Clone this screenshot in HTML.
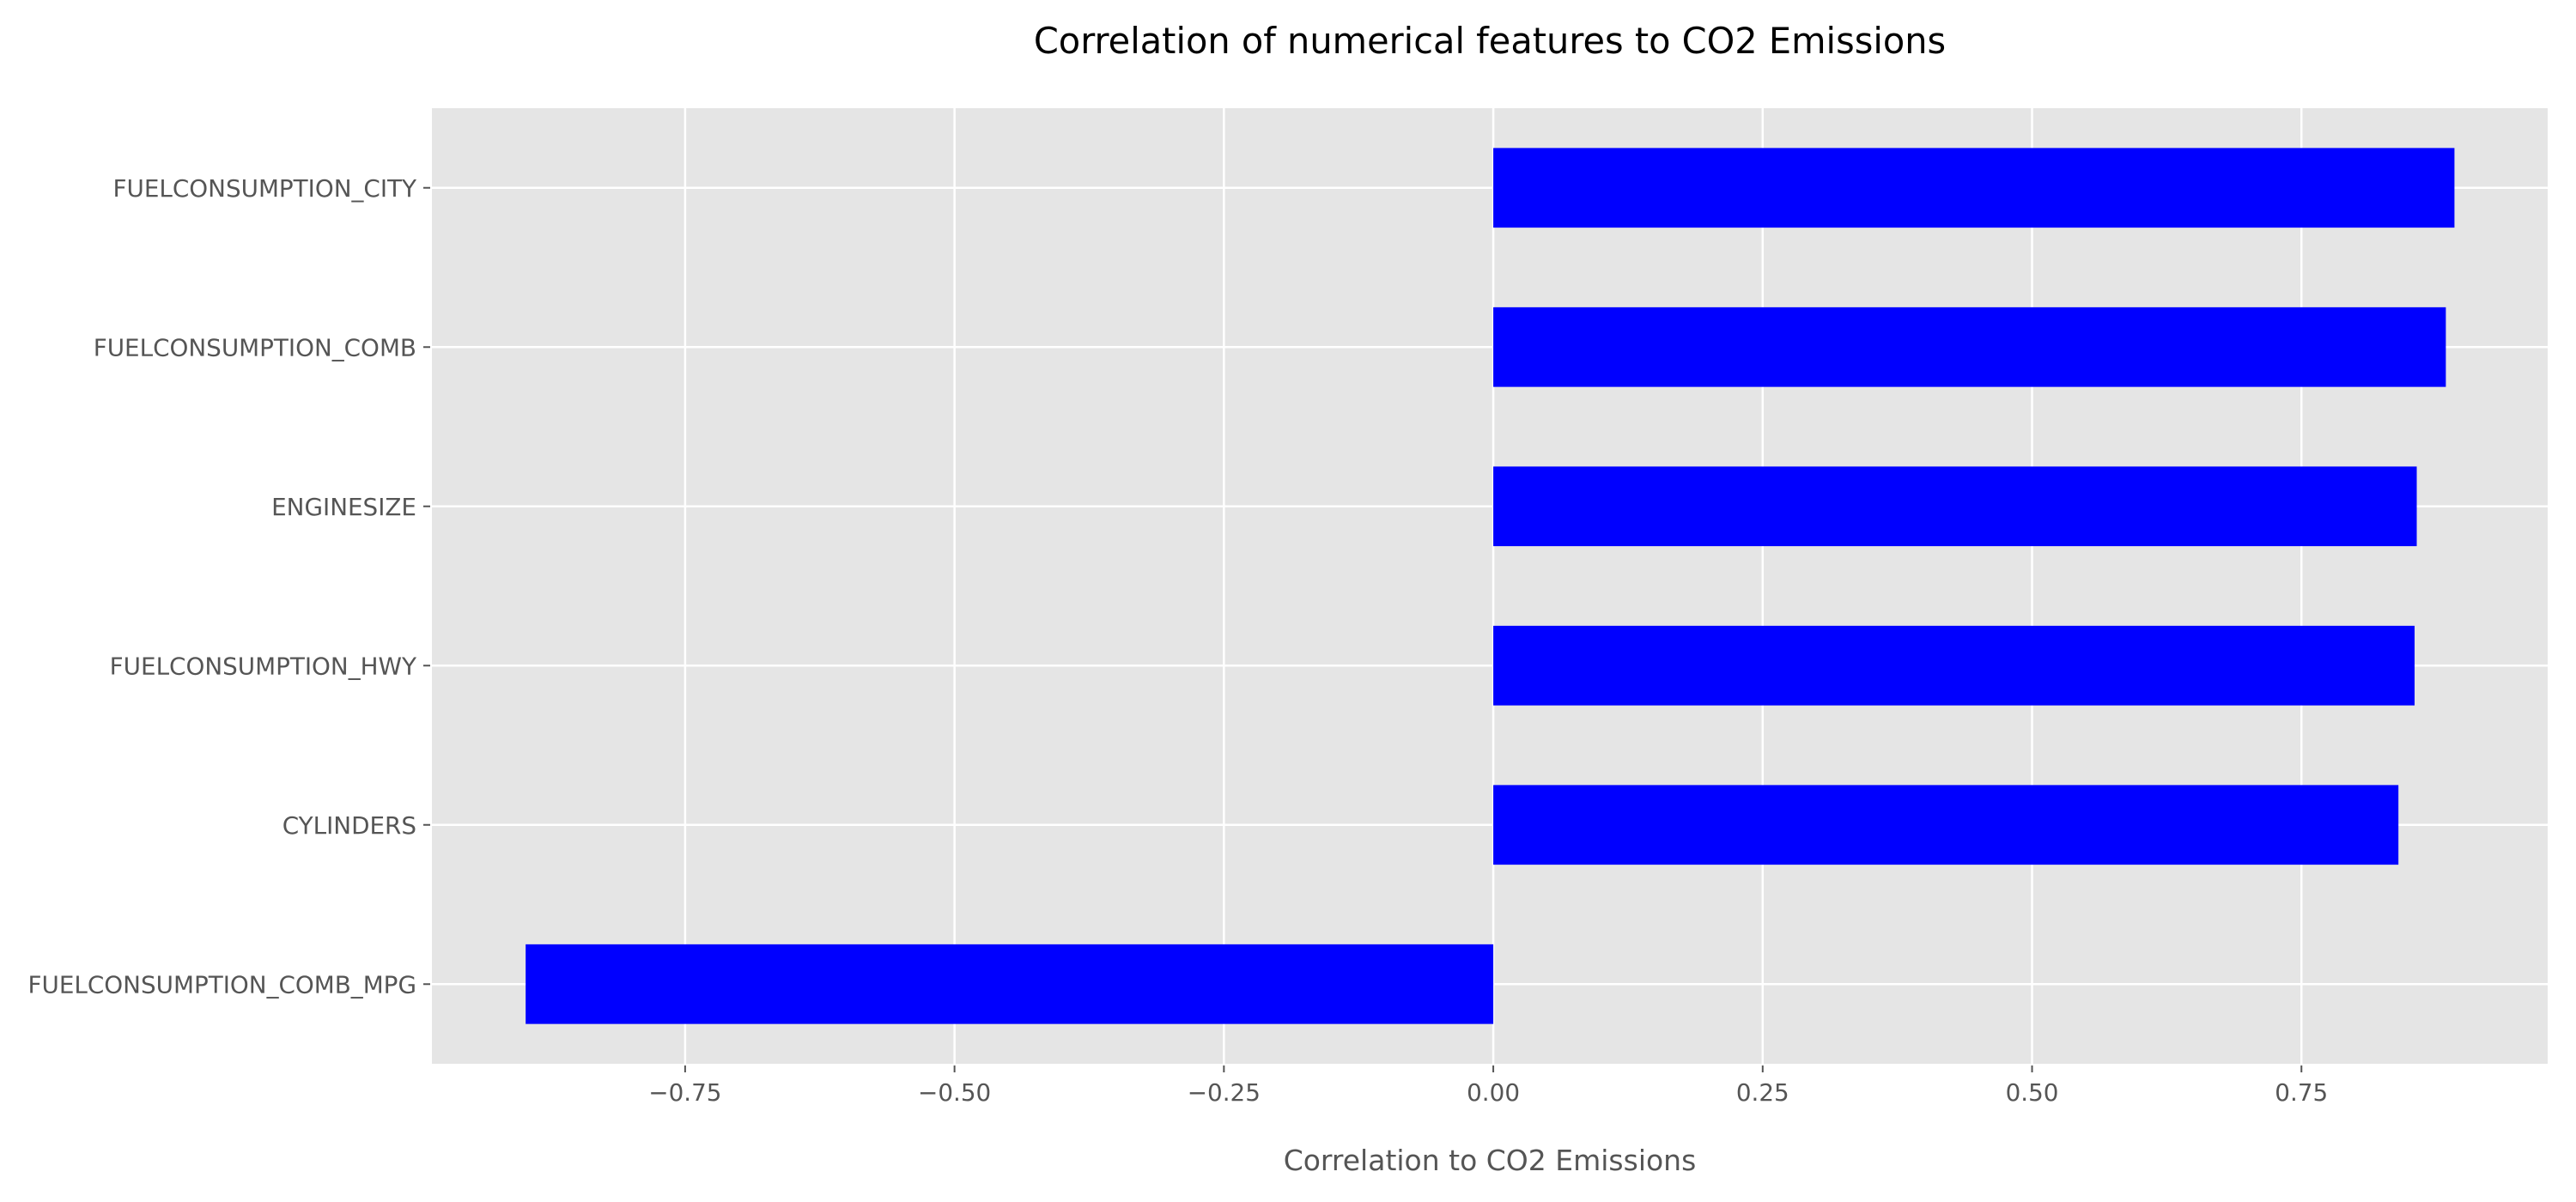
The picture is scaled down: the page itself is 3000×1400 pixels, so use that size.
<!DOCTYPE html>
<html><head><meta charset="utf-8"><style>
html,body{margin:0;padding:0;background:#fff;}
svg{display:block;font-family:"DejaVu Sans","Liberation Sans",sans-serif;}
</style></head><body>
<svg id="chart" width="3000" height="1400" viewBox="0 0 3000 1400" xmlns="http://www.w3.org/2000/svg">
<rect x="503" y="126" width="2464" height="1113" fill="#e5e5e5"/>
<g id="grid"></g>
<g id="bars"></g>
<g id="xaxis"></g>
<g id="yaxis"></g>
<text x="1735" y="62" text-anchor="middle" font-size="41.5" fill="#000">Correlation of numerical features to CO2 Emissions</text>
<text x="1735" y="1363" text-anchor="middle" font-size="33" fill="#555">Correlation to CO2 Emissions</text>
</svg>
<script>
const categories = ["FUELCONSUMPTION_CITY","FUELCONSUMPTION_COMB","ENGINESIZE","FUELCONSUMPTION_HWY","CYLINDERS","FUELCONSUMPTION_COMB_MPG"];
const values = [0.892, 0.884, 0.857, 0.855, 0.840, -0.898];
const xTicks = [-0.75, -0.5, -0.25, 0, 0.25, 0.5, 0.75];
const xTickLabels = ["\u22120.75","\u22120.50","\u22120.25","0.00","0.25","0.50","0.75"];
const xDomain = [-0.985, 0.9785];

const L=503, R=2967, T=126, B=1239;
const NS="http://www.w3.org/2000/svg";
function x(v){return L+(v-xDomain[0])/(xDomain[1]-xDomain[0])*(R-L);}
const band=(B-T)/categories.length;
function yc(i){return T+band*(i+0.5);}
function mk(tag,attrs,parent){const e=document.createElementNS(NS,tag);for(const k in attrs)e.setAttribute(k,attrs[k]);parent.appendChild(e);return e;}
const grid=document.getElementById('grid'),bars=document.getElementById('bars'),xa=document.getElementById('xaxis'),ya=document.getElementById('yaxis');
xTicks.forEach((t,i)=>{
  const gl=mk('line',{x1:x(t),x2:x(t),y1:T,y2:B,stroke:'#fff','stroke-width':2.5},grid);
  
  
  const tk=mk('line',{x1:x(t),x2:x(t),y1:B+2,y2:B+10,stroke:'#555','stroke-width':2},xa);
  
  
  const lb=mk('text',{x:x(t),y:1282,'text-anchor':'middle','font-size':27.8,fill:'#555'},xa);
  lb.textContent=xTickLabels[i];
  
  
});
categories.forEach((c,i)=>{
  const y=yc(i);
  const gl=mk('line',{x1:L,x2:R,y1:y,y2:y,stroke:'#fff','stroke-width':2.5},grid);
  
  
  const v=values[i];
  const x0=x(Math.min(0,v)), x1=x(Math.max(0,v));
  const r=mk('rect',{x:x0,y:y-band*0.25,width:x1-x0,height:band*0.5,fill:'#0000ff'},bars);
  
  
  const tk=mk('line',{x1:L-10,x2:L-2,y1:y,y2:y,stroke:'#555','stroke-width':2},ya);
  
  
  const lb=mk('text',{x:485,y:y+10,'text-anchor':'end','font-size':27.8,fill:'#555'},ya);
  lb.textContent=c;
  
  
});
</script>
</body></html>
